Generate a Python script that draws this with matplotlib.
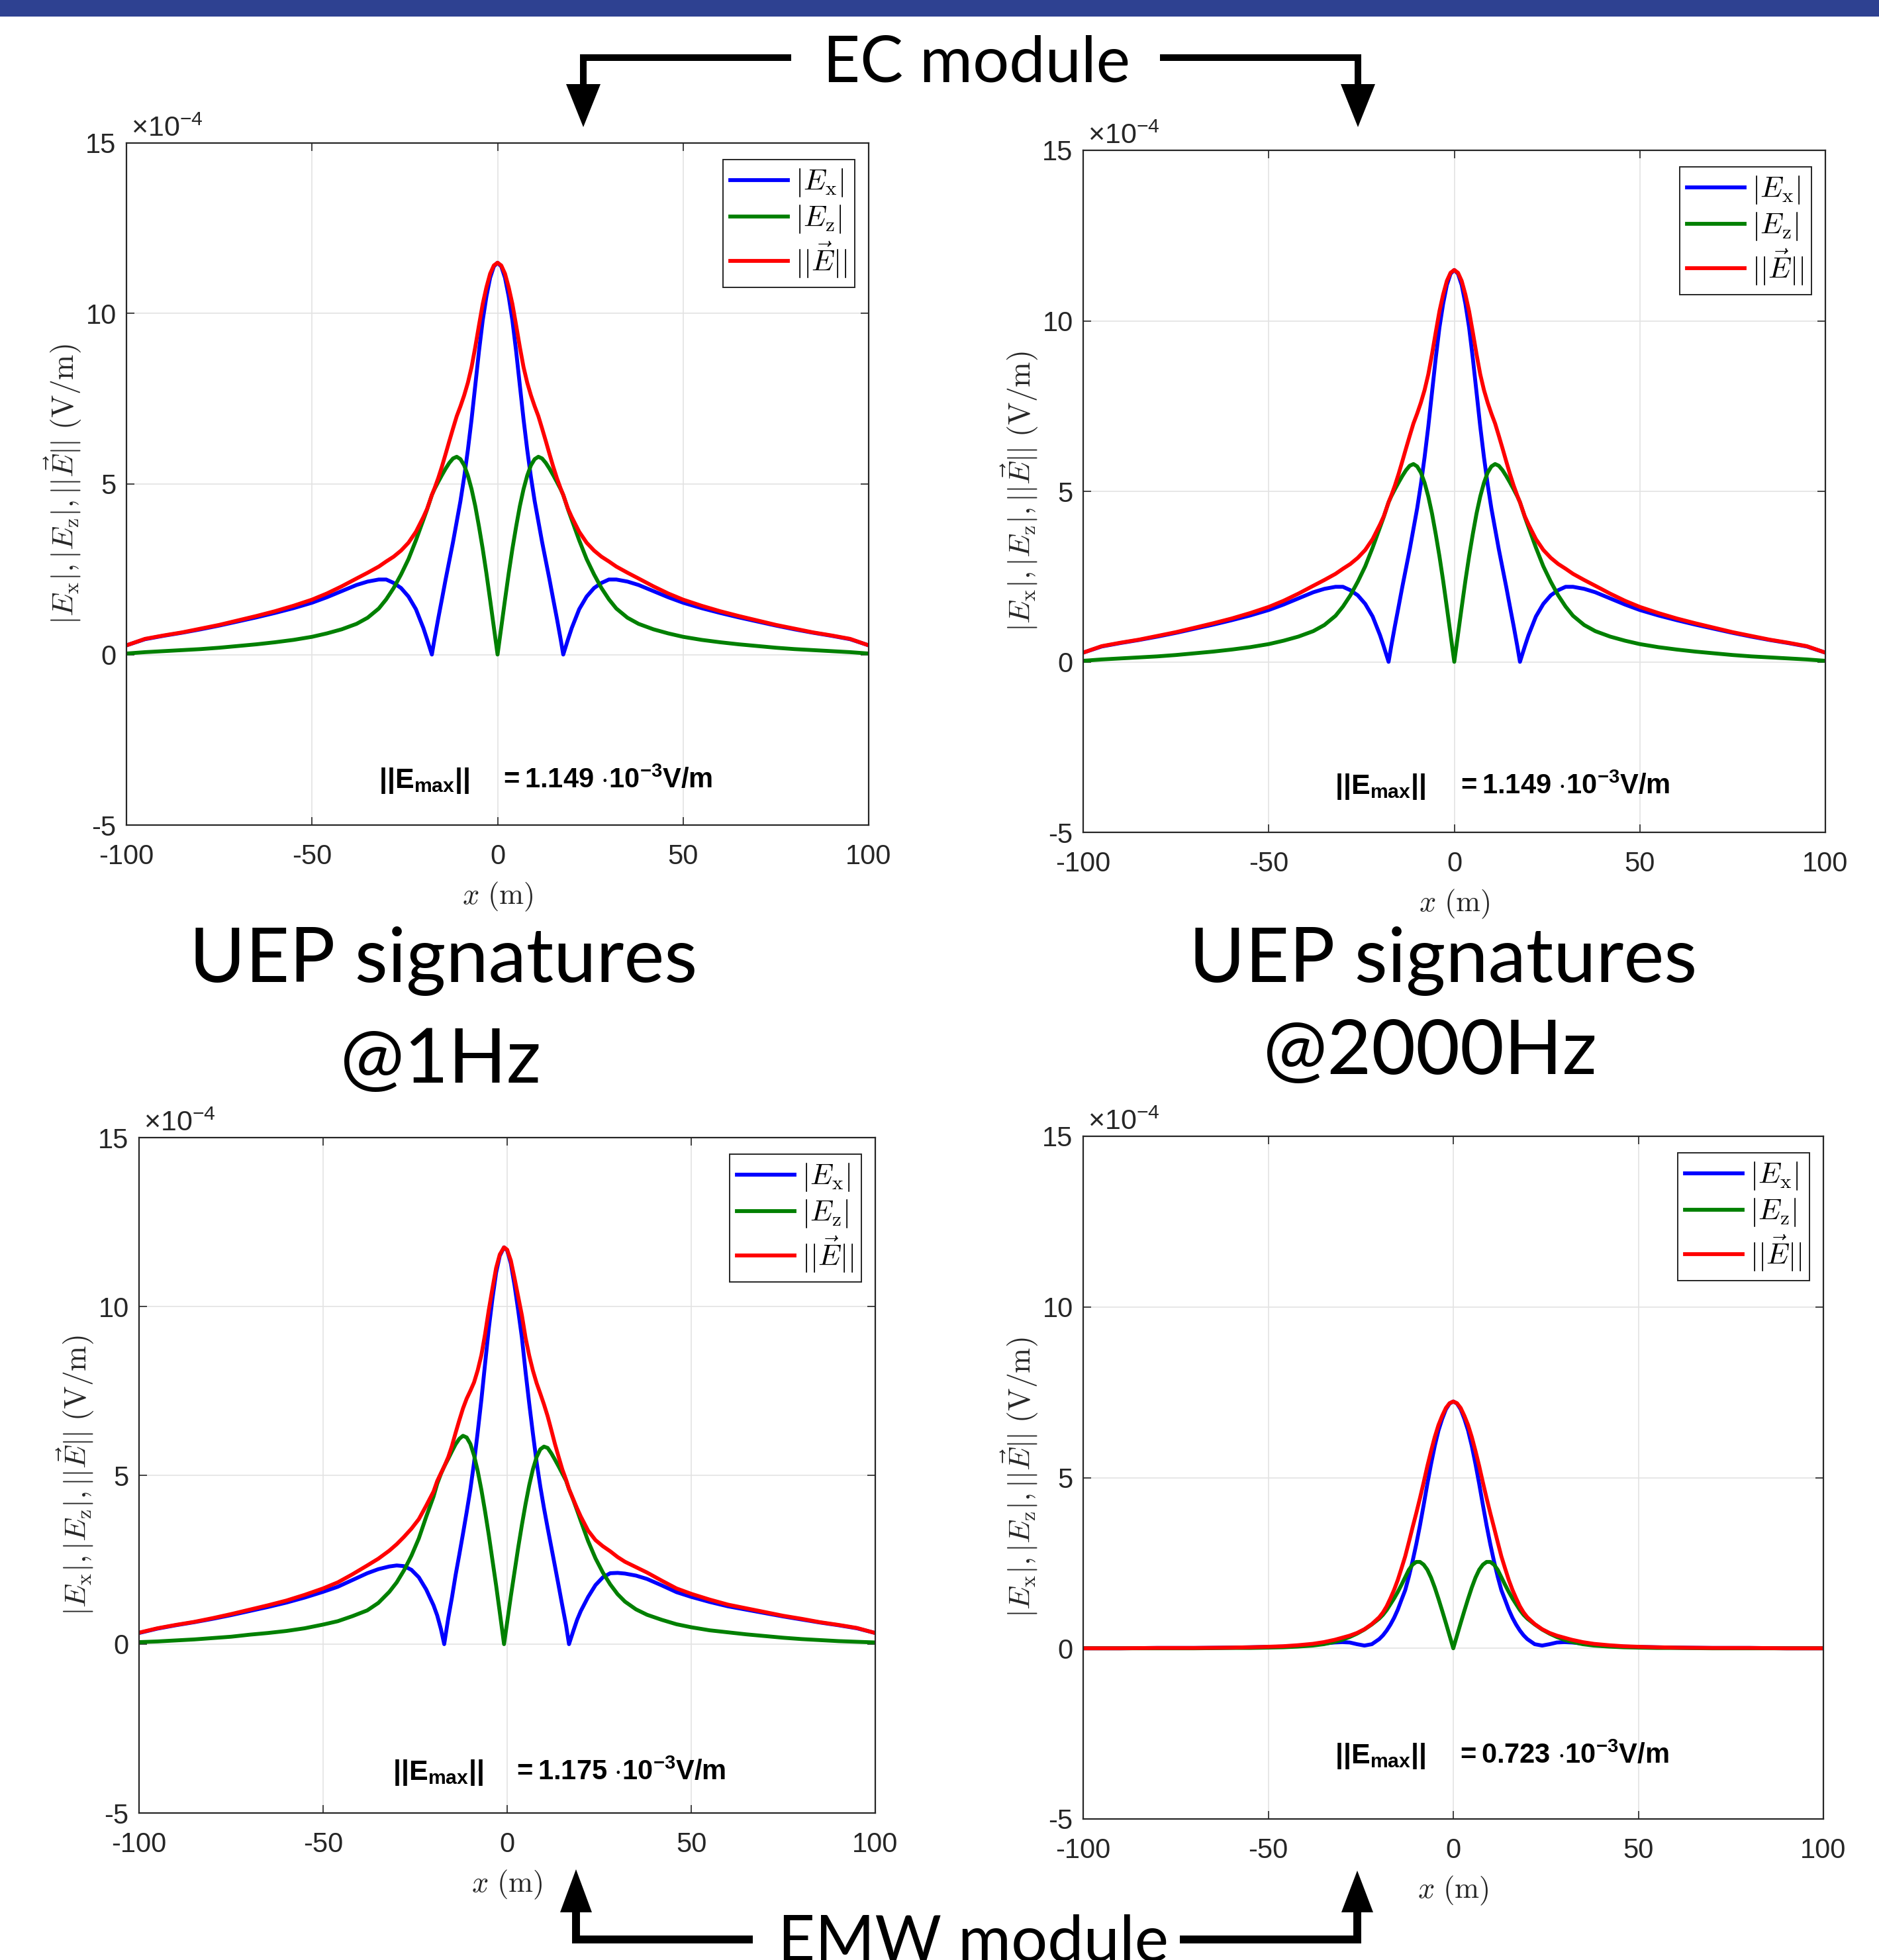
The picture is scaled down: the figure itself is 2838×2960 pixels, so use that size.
import matplotlib
matplotlib.use('Agg')
import matplotlib.pyplot as plt
from matplotlib.patches import Polygon, Rectangle

# ---------------- data (field values in units of 1e-4 V/m) ----------------
x_ec = [-100, -95, -90, -85, -80, -75, -70, -65, -60, -55, -50, -46, -42, -38, -35, -32, -30, -28, -26, -24,
        -22, -20, -19, -17.7, -17, -16, -15, -14, -13, -12, -11, -10, -9, -8, -7, -6, -5, -4, -3, -2, -1,
        0, 1, 2, 3, 4, 5, 6, 7, 8, 9, 10, 11, 12, 13, 14, 15, 16, 17, 17.7, 19, 20, 22, 24, 26, 28, 30, 32,
        35, 38, 42, 46, 50, 55, 60, 65, 70, 75, 80, 85, 90, 95, 100]
ec_ex = [0.27, 0.45, 0.55, 0.64, 0.74, 0.85, 0.97, 1.09, 1.22, 1.36, 1.52, 1.68, 1.86, 2.04, 2.14, 2.2, 2.2, 2.1,
         1.95, 1.7, 1.33, 0.78, 0.45, 0.0, 0.45, 1.05, 1.62, 2.2, 2.75, 3.3, 3.9, 4.5, 5.2, 6.0, 6.9, 7.9,
         8.9, 9.8, 10.5, 11.05, 11.38,
         11.49,
         11.38, 11.05, 10.5, 9.8, 8.9, 7.9, 6.9, 6.0, 5.2, 4.5, 3.9, 3.3, 2.75, 2.2, 1.62, 1.05, 0.45, 0.0,
         0.45, 0.78, 1.33, 1.7, 1.95, 2.1, 2.2, 2.2, 2.14, 2.04, 1.86, 1.68, 1.52, 1.36, 1.22, 1.09, 0.97, 0.85,
         0.74, 0.64, 0.55, 0.45, 0.27]
ec_ez = [0.03, 0.07, 0.1, 0.13, 0.16, 0.2, 0.25, 0.3, 0.36, 0.43, 0.52, 0.62, 0.74, 0.9, 1.08, 1.35, 1.62, 1.95,
         2.35, 2.8, 3.35, 3.95, 4.25, 4.68, 4.85, 5.06, 5.26, 5.45, 5.62, 5.75, 5.8, 5.73, 5.55, 5.25, 4.85, 4.35,
         3.75, 3.1, 2.38, 1.6, 0.8,
         0.0,
         0.8, 1.6, 2.38, 3.1, 3.75, 4.35, 4.85, 5.25, 5.55, 5.73, 5.8, 5.75, 5.62, 5.45, 5.26, 5.06, 4.85, 4.68,
         4.25, 3.95, 3.35, 2.8, 2.35, 1.95, 1.62, 1.35, 1.08, 0.9, 0.74, 0.62, 0.52, 0.43, 0.36, 0.3, 0.25, 0.2,
         0.16, 0.13, 0.1, 0.07, 0.03]
ec_e = [0.27, 0.46, 0.56, 0.65, 0.76, 0.87, 1.0, 1.13, 1.27, 1.43, 1.61, 1.79, 2.0, 2.23, 2.4, 2.58, 2.73, 2.87,
        3.05, 3.28, 3.6, 4.03, 4.27, 4.68, 4.87, 5.17, 5.51, 5.88, 6.26, 6.63, 6.99, 7.28, 7.6, 7.97, 8.43, 9.02,
        9.66, 10.28, 10.77, 11.17, 11.41,
        11.49,
        11.41, 11.17, 10.77, 10.28, 9.66, 9.02, 8.43, 7.97, 7.6, 7.28, 6.99, 6.63, 6.26, 5.88, 5.51, 5.17, 4.87,
        4.68, 4.27, 4.03, 3.6, 3.28, 3.05, 2.87, 2.73, 2.58, 2.4, 2.23, 2.0, 1.79, 1.61, 1.43, 1.27, 1.13, 1.0,
        0.87, 0.76, 0.65, 0.56, 0.46, 0.27]

x_emw1 = [-100, -95, -90, -85, -80, -75, -70, -65, -60, -55, -50, -46, -42, -38, -35, -32, -30, -28, -26, -24,
          -22, -20, -19, -18, -17.1, -16, -15, -14, -13, -12, -11, -10, -9, -8, -7, -6, -5, -4, -3, -2, -0.85,
          0, 1, 2, 3, 4, 5, 6, 7, 8, 9, 10, 11, 12, 13, 14, 15, 16, 16.8, 18, 19, 20, 22, 24, 26, 28, 30, 32,
          35, 38, 42, 46, 50, 55, 60, 65, 70, 75, 80, 85, 90, 95, 100]
emw1_ex = [0.33, 0.46, 0.56, 0.65, 0.75, 0.86, 0.98, 1.1, 1.23, 1.38, 1.55, 1.7, 1.9, 2.1, 2.22, 2.3, 2.33, 2.31,
           2.2, 1.98, 1.62, 1.15, 0.85, 0.45, 0.0, 0.77, 1.38, 2.05, 2.65, 3.27, 3.91, 4.58, 5.37, 6.28, 7.24, 8.3,
           9.34, 10.23, 11.0, 11.5, 11.75,
           11.66, 11.27, 10.63, 9.88, 9.08, 8.06, 7.12, 6.23, 5.39, 4.67, 4.03, 3.44, 2.87, 2.3, 1.72, 1.13, 0.56,
           0.0, 0.4, 0.72, 0.98, 1.4, 1.75, 1.98, 2.1, 2.11, 2.09, 2.03, 1.93, 1.74, 1.54, 1.4, 1.25, 1.12, 1.02,
           0.92, 0.82, 0.73, 0.64, 0.56, 0.47, 0.33]
emw1_ez = [0.06, 0.08, 0.11, 0.14, 0.18, 0.22, 0.28, 0.33, 0.39, 0.47, 0.58, 0.68, 0.83, 1.0, 1.22, 1.55, 1.83,
           2.19, 2.62, 3.13, 3.77, 4.37, 4.75, 5.04, 5.26, 5.49, 5.71, 5.92, 6.08, 6.17, 6.12, 5.93, 5.59, 5.13,
           4.57, 3.93, 3.24, 2.49, 1.74, 0.94, 0.0,
           0.65, 1.42, 2.14, 2.86, 3.53, 4.15, 4.71, 5.18, 5.54, 5.77, 5.85, 5.81, 5.65, 5.46, 5.26, 5.05, 4.84,
           4.59, 4.26, 3.96, 3.65, 3.05, 2.54, 2.12, 1.77, 1.48, 1.26, 1.03, 0.87, 0.72, 0.59, 0.5, 0.41, 0.35,
           0.29, 0.24, 0.19, 0.15, 0.12, 0.09, 0.07, 0.05]
emw1_e = [0.34, 0.47, 0.57, 0.66, 0.77, 0.89, 1.02, 1.15, 1.29, 1.46, 1.65, 1.83, 2.07, 2.33, 2.53, 2.77, 2.96,
          3.18, 3.42, 3.7, 4.1, 4.52, 4.83, 5.06, 5.26, 5.54, 5.87, 6.26, 6.63, 6.98, 7.27, 7.5, 7.75, 8.11, 8.56,
          9.18, 9.89, 10.53, 11.14, 11.54, 11.75,
          11.68, 11.36, 10.84, 10.29, 9.74, 9.07, 8.54, 8.1, 7.73, 7.42, 7.1, 6.75, 6.34, 5.92, 5.54, 5.17, 4.87,
          4.59, 4.28, 4.02, 3.78, 3.36, 3.08, 2.9, 2.75, 2.58, 2.44, 2.28, 2.12, 1.88, 1.65, 1.49, 1.32, 1.17, 1.06,
          0.95, 0.84, 0.75, 0.65, 0.57, 0.48, 0.33]

x_emw2 = [-100, -90, -80, -70, -60, -55, -50, -46, -42, -38, -35, -32, -30, -28, -26, -24, -22, -20, -19, -18,
          -17, -16, -15, -14, -13, -12, -11, -10, -9, -8, -7, -6, -5, -4, -3, -2, -1,
          0, 1, 2, 3, 4, 5, 6, 7, 8, 9, 10, 11, 12, 13, 14, 15, 16, 17, 18, 19, 20, 22, 24, 26, 28, 30, 32, 35,
          38, 42, 46, 50, 55, 60, 70, 80, 90, 100]
emw2_ex = [0.0, 0.0, 0.01, 0.01, 0.02, 0.03, 0.04, 0.05, 0.07, 0.1, 0.14, 0.17, 0.18, 0.17, 0.12, 0.08, 0.12,
           0.27, 0.38, 0.52, 0.69, 0.89, 1.13, 1.42, 1.7, 2.1, 2.55, 3.05, 3.6, 4.2, 4.82, 5.4, 5.93, 6.38, 6.72,
           7.0, 7.17,
           7.23,
           7.17, 7.0, 6.72, 6.38, 5.93, 5.4, 4.82, 4.2, 3.6, 3.05, 2.55, 2.1, 1.7, 1.42, 1.13, 0.89, 0.69, 0.52,
           0.38, 0.27, 0.12, 0.08, 0.12, 0.17, 0.18, 0.17, 0.14, 0.1, 0.07, 0.05, 0.04, 0.03, 0.02, 0.01, 0.01,
           0.0, 0.0]
emw2_ez = [0.0, 0.0, 0.0, 0.0, 0.01, 0.01, 0.02, 0.03, 0.05, 0.08, 0.12, 0.19, 0.25, 0.33, 0.43, 0.55, 0.7, 0.87,
           0.98, 1.12, 1.29, 1.46, 1.65, 1.86, 2.08, 2.3, 2.45, 2.53, 2.53, 2.45, 2.3, 2.07, 1.78, 1.45, 1.1, 0.74,
           0.37,
           0.0,
           0.37, 0.74, 1.1, 1.45, 1.78, 2.07, 2.3, 2.45, 2.53, 2.53, 2.45, 2.3, 2.08, 1.86, 1.65, 1.46, 1.29, 1.12,
           0.98, 0.87, 0.7, 0.55, 0.43, 0.33, 0.25, 0.19, 0.12, 0.08, 0.05, 0.03, 0.02, 0.01, 0.01, 0.0, 0.0, 0.0,
           0.0]
emw2_e = [0.0, 0.0, 0.01, 0.01, 0.02, 0.03, 0.045, 0.06, 0.09, 0.13, 0.18, 0.25, 0.31, 0.37, 0.45, 0.56, 0.71,
          0.91, 1.05, 1.23, 1.46, 1.71, 2.0, 2.34, 2.69, 3.11, 3.54, 3.96, 4.4, 4.86, 5.34, 5.78, 6.19, 6.54, 6.81,
          7.04, 7.18,
          7.23,
          7.18, 7.04, 6.81, 6.54, 6.19, 5.78, 5.34, 4.86, 4.4, 3.96, 3.54, 3.11, 2.69, 2.34, 2.0, 1.71, 1.46, 1.23,
          1.05, 0.91, 0.71, 0.56, 0.45, 0.37, 0.31, 0.25, 0.18, 0.13, 0.09, 0.06, 0.045, 0.03, 0.02, 0.01, 0.01,
          0.0, 0.0]

emax_values = ['1.149', '1.149', '1.175', '0.723']
x_ticks = [-100, -50, 0, 50, 100]
y_ticks = [-5, 0, 5, 10, 15]
legend_labels = [r'$|E_{\rm x}|$', r'$|E_{\rm z}|$', r'$||\vec{E}||$']
series_colors = ['#0000FF', '#008000', '#FF0000']

panels = [
    (x_ec, ec_ex, ec_ez, ec_e),
    (x_ec, ec_ex, ec_ez, ec_e),
    (x_emw1, emw1_ex, emw1_ez, emw1_e),
    (x_emw2, emw2_ex, emw2_ez, emw2_e),
]

# ---------------- layout ----------------
W, H = 2838, 2960
plt.rcParams['mathtext.fontset'] = 'cm'
plt.rcParams['mathtext.rm'] = 'Liberation Sans'
plt.rcParams['mathtext.it'] = 'Liberation Sans:italic'
plt.rcParams['mathtext.bf'] = 'Liberation Sans:bold'
plt.rcParams['axes.unicode_minus'] = False
plt.rcParams['font.family'] = ['Liberation Sans', 'DejaVu Sans']

fig = plt.figure(figsize=(W / 100, H / 100), dpi=100)

# axes boxes in pixels: left, top, right, bottom
rects = [(191, 216, 1312, 1246), (1636, 227, 2757, 1257), (210, 1718, 1322, 2738), (1636, 1716, 2754, 2747)]
# annotation: x of "||E_max||", baseline, x of "= ..."
annot = [(572, 1190, 754), (2016, 1199, 2200), (593, 2688, 774), (2016, 2663, 2199)]

AX_COL = '#262626'

ov = fig.add_axes([0, 0, 1, 1], zorder=10)
ov.set_xlim(0, W)
ov.set_ylim(H, 0)
ov.axis('off')

for i, (l, t, r, b) in enumerate(rects):
    ax = fig.add_axes([l / W, 1 - b / H, (r - l) / W, (b - t) / H])
    xs, ex, ez, ee = panels[i]
    ax.plot(xs, ex, color=series_colors[0], lw=4.2, label=legend_labels[0], solid_joinstyle='round')
    ax.plot(xs, ez, color=series_colors[1], lw=4.2, label=legend_labels[1], solid_joinstyle='round')
    ax.plot(xs, ee, color=series_colors[2], lw=4.2, label=legend_labels[2], solid_joinstyle='round')
    ax.set_xlim(-100, 100)
    ax.set_ylim(-5, 15)
    ax.set_xticks(x_ticks)
    ax.set_yticks(y_ticks)
    ax.set_xticklabels([str(v) for v in x_ticks])
    ax.set_yticklabels([str(v) for v in y_ticks])
    ax.grid(True, color='#e3e3e3', linewidth=1.2)
    ax.set_axisbelow(True)
    ax.tick_params(direction='in', length=8.5, width=1.2, top=True, right=True, colors=AX_COL,
                   labelsize=30)
    ax.tick_params(axis='x', pad=20)
    ax.tick_params(axis='y', pad=11)
    for sp in ax.spines.values():
        sp.set_color(AX_COL)
        sp.set_linewidth(1.6)
    aw, ah = r - l, b - t
    ax.set_xlabel(r'$x\ (\mathrm{m})$', fontsize=32, color=AX_COL)
    ax.xaxis.set_label_coords(0.5, -108 / ah)
    ax.xaxis.label.set_va('center')
    ax.set_ylabel(r'$|E_{\rm x}|,|E_{\rm z}|,||\vec{E}||\ (\mathrm{V/m})$', fontsize=33, color=AX_COL)
    ax.yaxis.set_label_coords(-96 / aw, 0.5)
    ax.yaxis.label.set_va('center')
    ax.text(7 / aw, 1 + 10 / ah, r'$\times\mathrm{10}^{\mathrm{-4}}$', transform=ax.transAxes,
            fontsize=31, color=AX_COL, math_fontfamily='custom', ha='left', va='baseline')
    leg = ax.legend(loc='upper right', bbox_to_anchor=(1 - 21 / aw, 1 - 25 / ah), borderaxespad=0,
                    fontsize=32, frameon=True, fancybox=False, edgecolor='#262626', framealpha=1,
                    handlelength=1.95, handletextpad=0.25, labelspacing=0.16, borderpad=0.25)
    leg.get_frame().set_linewidth(1.4)
    xa, yb, x2 = annot[i]
    ov.text(xa, yb, r'$\mathbf{||E_{max}||}$', fontsize=31, math_fontfamily='custom',
            ha='left', va='baseline', color='black')
    ov.text(x2, yb, r'$\mathbf{=%s\ {\cdot}10^{-3}V/m}$' % emax_values[i],
            fontsize=30, math_fontfamily='custom', ha='left', va='baseline', color='black')

# ---------------- decorations ----------------
ov.add_patch(Rectangle((0, 0), W, 25, color='#2E4191', lw=0))

BIG = 'Lato'
ov.text(1475, 123, 'EC module', ha='center', va='baseline', fontsize=70, family=BIG)
ov.text(1470, 2962, 'EMW module', ha='center', va='baseline', fontsize=70, family=BIG)
ov.text(670, 1483, 'UEP signatures', ha='center', va='baseline', fontsize=83, family=BIG)
ov.text(666, 1635, '@1Hz', ha='center', va='baseline', fontsize=83, family=BIG)
ov.text(2180, 1483, 'UEP signatures', ha='center', va='baseline', fontsize=83, family=BIG)
ov.text(2160, 1622, '@2000Hz', ha='center', va='baseline', fontsize=83, family=BIG)


def elbow(pts, head, lw):
    ov.plot([p[0] for p in pts], [p[1] for p in pts], color='black', lw=lw,
            solid_capstyle='butt', solid_joinstyle='miter')
    ov.add_patch(Polygon(head, closed=True, color='black', lw=0))


elbow([(1195, 87), (881, 87), (881, 130)], [(855, 127), (907, 127), (881, 192)], 7.2)
elbow([(1752, 87), (2051, 87), (2051, 130)], [(2025, 127), (2077, 127), (2051, 192)], 7.2)
elbow([(1137, 2929), (870, 2929), (870, 2885)], [(846, 2888), (894, 2888), (870, 2823)], 8.6)
elbow([(1782, 2929), (2050, 2929), (2050, 2885)], [(2026, 2888), (2074, 2888), (2050, 2825)], 8.6)

fig.savefig('out.png', dpi=100)
